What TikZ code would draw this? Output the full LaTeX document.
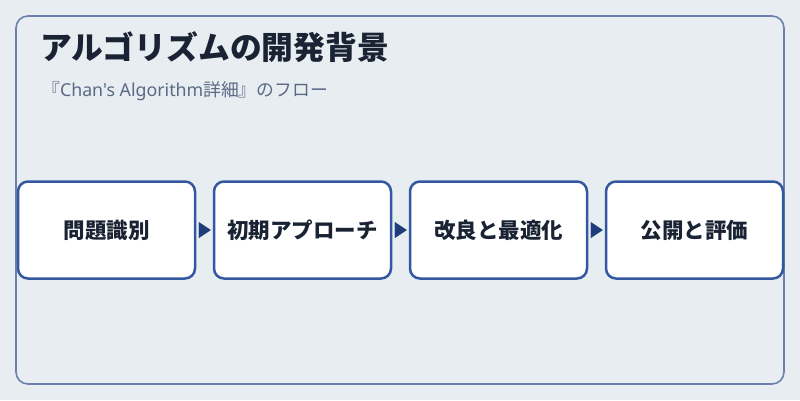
\documentclass[tikz,border=0pt]{standalone}
\usepackage{fontspec}
\setmainfont{Noto Sans CJK JP}
\newfontfamily\latinsub{Noto Sans}
\usetikzlibrary{arrows.meta}
\definecolor{bg}{HTML}{E8EDF2}
\definecolor{frame}{HTML}{6A82AD}
\definecolor{boxline}{HTML}{3358A0}
\definecolor{arrowc}{HTML}{1F3D7A}
\definecolor{ink}{HTML}{1A2333}
\definecolor{sub}{HTML}{5A6A85}
\begin{document}
\begin{tikzpicture}[x=1pt,y=-1pt,
  stepbox/.style={draw=boxline,line width=2.5pt,fill=white,rounded corners=10pt,
    minimum width=177pt,minimum height=97pt,inner sep=0pt,text=ink,
    font=\fontsize{21.5}{26}\selectfont\bfseries},
  flow/.style={draw=arrowc,line width=0.01pt,-{Triangle[length=12pt,width=16pt]},
    fill=arrowc,shorten <=3pt,shorten >=2pt}]
\useasboundingbox (0,0) rectangle (800,400);
\fill[bg] (0,0) rectangle (800,400);
\draw[frame,line width=1.6pt,rounded corners=12pt] (16,16) rectangle (784,384);
\node[anchor=base west,text=ink,font=\fontsize{31.8}{36}\selectfont\bfseries,inner sep=0pt] (title) at (40,59) {アルゴリズムの開発背景};
\node[anchor=base west,text=sub,font=\fontsize{17.8}{21}\selectfont,inner sep=0pt] (subtitle) at (42,96) {『{\latinsub Chan's Algorithm}詳細』のフロー};
\node[stepbox] (b1) at (106.5,230) {問題識別};
\node[stepbox] (b2) at (302.5,230) {初期アプローチ};
\node[stepbox] (b3) at (498.5,230) {改良と最適化};
\node[stepbox] (b4) at (694.5,230) {公開と評価};
\draw[flow] (b1) -- (b2);
\draw[flow] (b2) -- (b3);
\draw[flow] (b3) -- (b4);
\end{tikzpicture}
\end{document}
